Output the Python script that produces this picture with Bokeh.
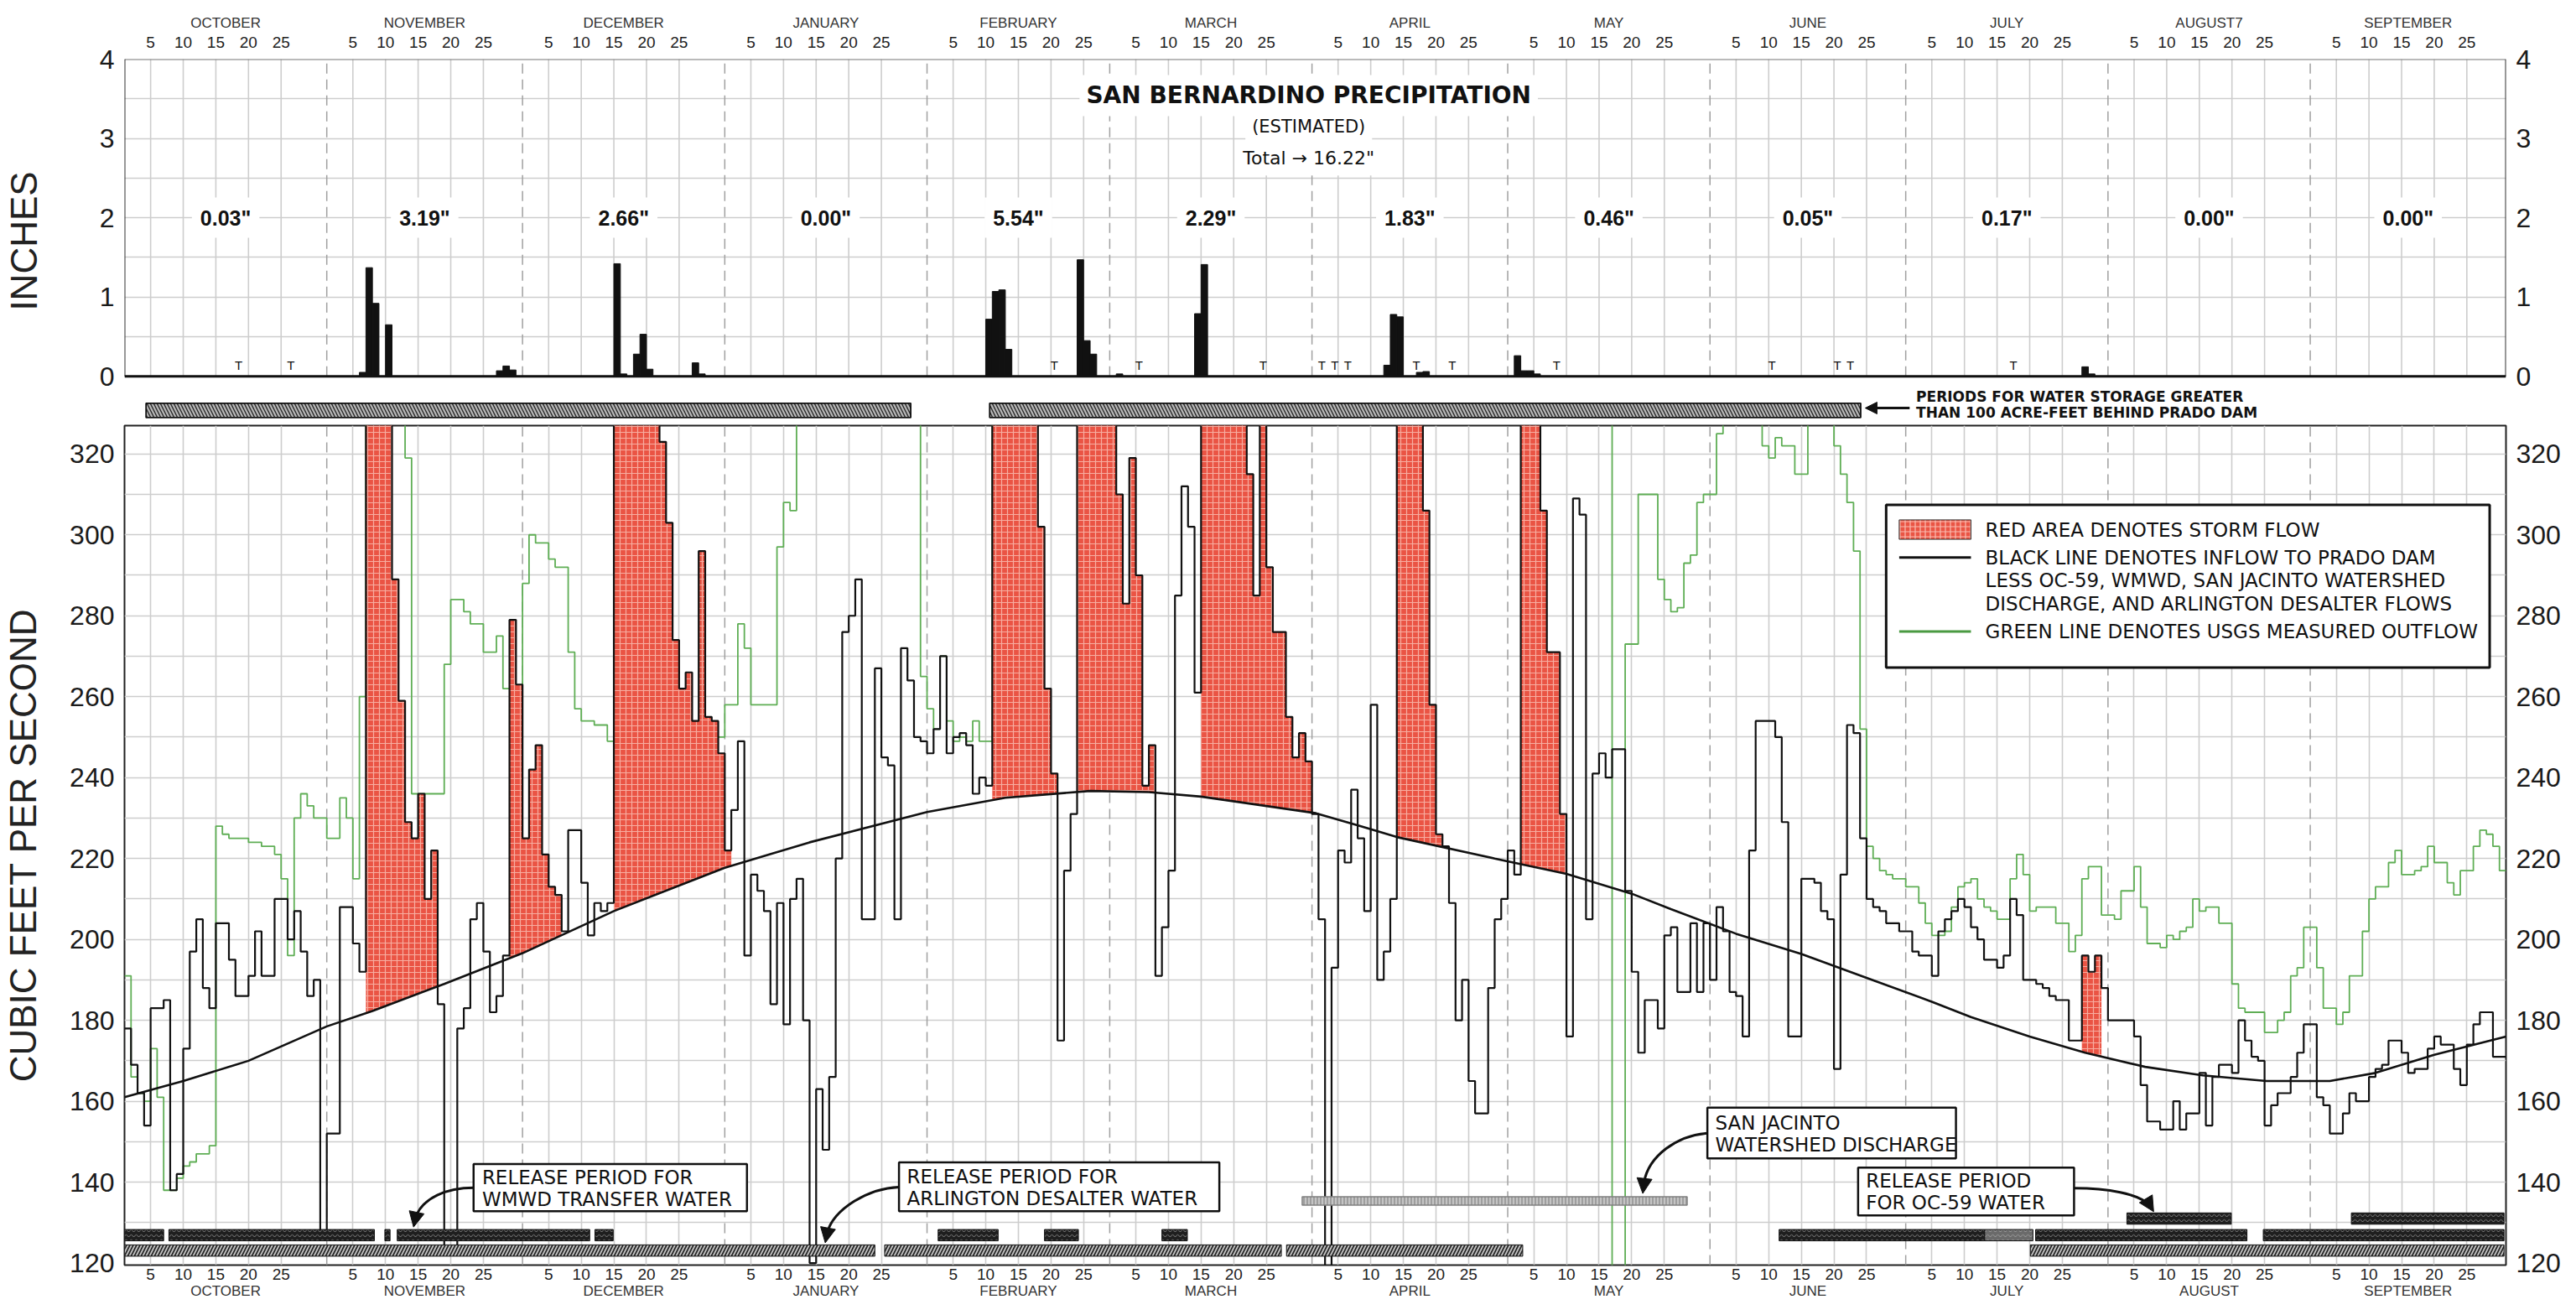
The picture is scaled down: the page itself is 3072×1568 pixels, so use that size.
import numpy as np
from bokeh.plotting import figure
from bokeh.layouts import column
from bokeh.models import Range1d, FixedTicker, LinearAxis, Grid, Arrow, NormalHead, Label
from bokeh.embed import file_html
from bokeh.resources import INLINE
from bokeh.core.properties import value

FONT = "Liberation Sans"
CAD = "DejaVu Sans"

# ---------------- axis text ----------------
MONTHS_TOP = ["OCTOBER", "NOVEMBER", "DECEMBER", "JANUARY", "FEBRUARY", "MARCH",
              "APRIL", "MAY", "JUNE", "JULY", "AUGUST7", "SEPTEMBER"]
MONTHS_BOTTOM = ["OCTOBER", "NOVEMBER", "DECEMBER", "JANUARY", "FEBRUARY", "MARCH",
                 "APRIL", "MAY", "JUNE", "JULY", "AUGUST", "SEPTEMBER"]
MONTH_LENGTHS = [31, 30, 31, 31, 28, 31, 30, 31, 30, 31, 31, 30]
DAY_LABELS = [5, 10, 15, 20, 25]
INCH_TICKS = [0, 1, 2, 3, 4]
CFS_TICKS = [120, 140, 160, 180, 200, 220, 240, 260, 280, 300, 320]

# ---------------- precipitation (top panel) ----------------
MONTH_TOTALS = ['0.03"', '3.19"', '2.66"', '0.00"', '5.54"', '2.29"',
                '1.83"', '0.46"', '0.05"', '0.17"', '0.00"', '0.00"']
TITLE_LINES = ["SAN BERNARDINO PRECIPITATION", "(ESTIMATED)", 'Total \u2192 16.22"']
# day index counted from October 1 (= 0)
PRECIP_DAY = [36, 37, 38, 40, 57, 58, 59, 75, 76, 78, 79, 80, 87, 88,
              132, 133, 134, 135, 146, 147, 148, 152, 164, 165,
              193, 194, 195, 198, 199, 213, 214, 215, 216, 300, 301]
PRECIP_IN = [0.05, 1.37, 0.92, 0.65, 0.07, 0.13, 0.08, 1.42, 0.03, 0.28, 0.53, 0.09, 0.17, 0.03,
             0.72, 1.07, 1.09, 0.34, 1.47, 0.45, 0.28, 0.03, 0.79, 1.41,
             0.14, 0.78, 0.75, 0.05, 0.06, 0.26, 0.07, 0.07, 0.03, 0.12, 0.03]
TRACE_DAY = [17, 25, 142, 155, 174, 183, 185, 187, 197.5, 203, 219, 252, 262, 264, 289]

# ---------------- flows (bottom panel), one value per day ----------------
INFLOW_OCT = [178, 169, 162, 154, 183, 183, 185, 138, 142, 173, 197, 205, 188, 183, 204, 204,
              195, 186, 186, 191, 202, 191, 191, 210, 210, 200, 207, 197, 186, 190, 126]
INFLOW_NOV = [152, 152, 208, 208, 199, 192] + [360] * 4 + [289, 259, 229, 225, 236, 210, 222, 184,
              122, 122, 178, 183, 205, 209, 197, 182, 186, 196, 279, 263]
INFLOW_DEC = [225, 242, 248, 221, 213, 211, 202, 227, 227, 214, 201, 209, 207, 209] + [360] * 7 + \
             [323, 303, 274, 262, 266, 254, 296, 255, 254, 246]
INFLOW_JAN = [222, 232, 249, 196, 216, 212, 207, 184, 209, 179, 210, 215, 180, 120, 163, 148,
              166, 220, 276, 280, 289, 205, 205, 267, 245, 243, 205, 272, 264, 250, 249]
INFLOW_FEB = [246, 252, 270, 246, 250, 251, 248, 236, 240, 238] + [360] * 7 + \
             [302, 262, 241, 175, 217, 231] + [360] * 5
INFLOW_MAR = [360, 310, 283, 319, 290, 238, 248, 191, 203, 217, 285, 312, 302, 261] + [360] * 7 + \
             [315, 285, 360, 292, 276, 276, 255, 245, 251, 244]
INFLOW_APR = [231, 205, 119, 193, 222, 219, 237, 225, 207, 258, 190, 197, 210] + [360] * 4 + \
             [306, 258, 226, 223, 209, 180, 190, 165, 157, 157, 188, 205, 210]
INFLOW_MAY = [222, 216] + [360] * 3 + [306, 271, 271, 231, 176, 309, 305, 205, 241, 246, 240, 247,
              247, 212, 192, 172, 185, 185, 178, 201, 203, 187, 187, 204, 187, 204]
INFLOW_JUN = [190, 208, 202, 187, 186, 176, 222, 254, 254, 254, 250, 229, 176, 176, 215, 215,
              214, 207, 205, 168, 216, 253, 251, 225, 210, 208, 207, 204, 204, 202]
INFLOW_JUL = [202, 197, 196, 196, 191, 202, 205, 207, 210, 208, 203, 200, 195, 195, 193, 196,
              210, 206, 190, 190, 189, 188, 186, 185, 185, 175, 175, 196, 192, 196, 188]
INFLOW_AUG = [180, 180, 180, 180, 176, 164, 155, 155, 153, 153, 160, 153, 157, 157, 167, 154,
              166, 169, 169, 167, 180, 175, 171, 170, 154, 159, 162, 162, 166, 172, 179]
INFLOW_SEP = [179, 161, 159, 152, 152, 157, 162, 160, 160, 166, 168, 169, 175, 175, 172, 167,
              168, 168, 173, 176, 174, 174, 168, 164, 174, 179, 182, 182, 171, 171]

OUTFLOW_OCT = [191, 166, 162, 160, 173, 161, 138, 138, 141, 144, 145, 147, 147, 149, 228, 226,
               225, 225, 225, 224, 224, 223, 223, 221, 215, 196, 230, 236, 233, 230, 230]
OUTFLOW_NOV = [225, 225, 235, 230, 215, 260] + [345] * 6 + [319] + [236] * 5 + \
              [268, 284, 284, 281, 278, 278, 271, 271, 275, 262, 262, 262]
OUTFLOW_DEC = [288, 300, 298, 298, 294, 292, 292, 271, 257, 254, 254, 253, 253, 249] + [250] * 17
OUTFLOW_JAN = [258, 258, 278, 272, 258, 258, 258, 258, 297, 308, 306] + [345] * 19 + [265]
OUTFLOW_FEB = [257, 252, 270, 254, 249, 250, 249, 254, 249, 249] + [345] * 18
OUTFLOW_MAR = [345] * 31
OUTFLOW_APR = [345] * 30
OUTFLOW_MAY = [345] * 16 + [100, 100, 273, 273, 310, 310, 310, 289, 284, 281, 282, 293, 295, 308, 310]
OUTFLOW_JUN = [310, 325] + [345] * 6 + [322, 319, 324, 322, 322, 315, 315] + [345] * 4 + \
              [322, 315, 308, 296, 252, 223, 220, 217, 216, 215, 215]
OUTFLOW_JUL = [213, 213, 209, 204, 201, 201, 202, 208, 213, 214, 215, 210, 208, 207, 205, 205,
               215, 221, 216, 207, 208, 208, 208, 204, 204, 197, 201, 215, 218, 218, 206]
OUTFLOW_AUG = [206, 205, 212, 212, 218, 208, 199, 199, 198, 201, 200, 202, 203, 210, 207, 208,
               208, 204, 204, 189, 183, 182, 182, 182, 177, 177, 180, 182, 191, 193, 203]
OUTFLOW_SEP = [203, 193, 183, 183, 179, 182, 191, 191, 202, 210, 213, 213, 219, 222, 216, 216,
               217, 218, 223, 219, 219, 214, 211, 217, 217, 223, 227, 226, 223, 217]

# smooth base-flow curve (read points)
BASE_DAY = [0, 9, 19, 31, 38, 49, 61, 75, 92, 105, 123, 135, 148, 157, 165, 182.6, 189.4, 195,
            210, 221, 231, 237, 247, 257, 267, 277, 283, 292, 300.5, 309.7, 318.5, 328.3, 338,
            345, 354, 365]
BASE_CFS = [161, 165, 170, 178.5, 182.3, 189, 196.6, 207, 217.7, 224, 231.5, 235, 236.7, 236.4,
            235.3, 231.2, 228, 225.3, 220, 216.2, 211.3, 207.5, 201.4, 196.4, 190.5, 184.6, 180.8,
            176, 172, 168.5, 166.4, 165, 165, 167, 171.5, 176]

# storm-flow periods (inclusive day index)
STORM_START = [37, 59, 75, 133, 146, 165, 195, 214, 300]
STORM_END = [47, 66, 92, 142, 157, 182, 201, 220, 302]

# period bars
STORAGE_START = [3.3, 132.6]
STORAGE_END = [120.5, 266.1]
OC59_START = [306.9, 341.3]
OC59_END = [322.9, 364.7]
WMWD_START = [0, 6.8, 39.9, 41.8, 72.1, 124.7, 141, 159, 253.6, 285.1, 292.9, 327.8]
WMWD_END = [6, 38.3, 40.7, 71.3, 74.9, 133.9, 146.2, 162.9, 285.1, 292.5, 325.3, 364.7]
ARL_START = [0, 116.5, 178.1, 292.1]
ARL_END = [115, 177.3, 214.3, 364.7]
SANJAC_START = [180.5]
SANJAC_END = [239.5]

# ---------------- derived helpers ----------------
INFLOW = (INFLOW_OCT + INFLOW_NOV + INFLOW_DEC + INFLOW_JAN + INFLOW_FEB + INFLOW_MAR +
          INFLOW_APR + INFLOW_MAY + INFLOW_JUN + INFLOW_JUL + INFLOW_AUG + INFLOW_SEP)
OUTFLOW = (OUTFLOW_OCT + OUTFLOW_NOV + OUTFLOW_DEC + OUTFLOW_JAN + OUTFLOW_FEB + OUTFLOW_MAR +
           OUTFLOW_APR + OUTFLOW_MAY + OUTFLOW_JUN + OUTFLOW_JUL + OUTFLOW_AUG + OUTFLOW_SEP)

month_start = np.concatenate([[0], np.cumsum(MONTH_LENGTHS)])
day_ticks, day_over = [], {}
for ms in month_start[:-1]:
    for d in DAY_LABELS:
        t = float(ms + d - 1)
        day_ticks.append(t)
        day_over[t] = str(d)
month_mid = [float(ms + n / 2.0) for ms, n in zip(month_start[:-1], MONTH_LENGTHS)]
bounds = [float(v) for v in month_start[1:-1]]

GRID = "#cdcdcd"
RED = "#ea5444"
HATCH_RED = "#f9bcb0"


def styled_axis(ticks, overrides, size, standoff, color="#222"):
    ax = LinearAxis(ticker=FixedTicker(ticks=ticks), major_label_overrides=overrides)
    ax.axis_line_color = None
    ax.major_tick_line_color = None
    ax.minor_tick_line_color = None
    ax.major_tick_out = 0
    ax.major_tick_in = 0
    ax.minor_tick_out = 0
    ax.major_label_text_font = FONT
    ax.major_label_text_font_size = size
    ax.major_label_text_color = color
    ax.major_label_standoff = standoff
    return ax


def y_axis(ticks, label=None, standoff_label=0):
    ax = styled_axis(ticks, {}, "32px", 12, "#1a1a1a")
    if label:
        ax.axis_label = label
        ax.axis_label_text_font = FONT
        ax.axis_label_text_font_size = "44px"
        ax.axis_label_text_font_style = "normal"
        ax.axis_label_text_color = "#222"
        ax.axis_label_standoff = standoff_label
    return ax


x_range = Range1d(0, 365)
common = dict(width=3056, x_range=x_range, x_axis_location=None, y_axis_location=None,
              output_backend="svg", toolbar_location=None, min_border_left=145,
              min_border_right=67, border_fill_color="white", background_fill_color="white")

# =============== TOP PANEL ===============
top = figure(height=504, y_range=Range1d(-0.59, 4.0), min_border_top=70, min_border_bottom=0,
             outline_line_color=None, **common)
top.grid.visible = False
top.add_layout(Grid(dimension=1, ticker=FixedTicker(ticks=[0.5, 1, 1.5, 2, 2.5, 3, 3.5]),
                    grid_line_color=GRID, grid_line_width=1.6))
top.segment(x0=day_ticks, y0=0, x1=day_ticks, y1=4, line_color=GRID, line_width=1.6)
top.segment(x0=bounds, y0=0, x1=bounds, y1=4, line_color="#a0a0a0", line_width=1.5,
            line_dash="12 7")
# frame pieces
top.segment(x0=[0], y0=[4], x1=[365], y1=[4], line_color="#777", line_width=2)
top.segment(x0=[0, 365], y0=[0, 0], x1=[0, 365], y1=[4, 4], line_color="#333", line_width=2)

top.quad(left=PRECIP_DAY, right=[d + 1 for d in PRECIP_DAY], bottom=0, top=PRECIP_IN,
         fill_color="#111", line_color="#111", line_width=1)
top.segment(x0=[0], y0=[0], x1=[365], y1=[0], line_color="#111", line_width=3)
top.text(x=[d + 0.5 for d in TRACE_DAY], y=0.05, text=["T"] * len(TRACE_DAY),
         text_font=value(FONT), text_font_size="15px", text_align="center",
         text_baseline="bottom", text_color="#111")

for mid, tot in zip(month_mid, MONTH_TOTALS):
    top.add_layout(Label(x=mid, y=2.0, text=tot, text_font=FONT, text_font_size="25px",
                         text_font_style="bold", text_align="center", text_baseline="middle",
                         background_fill_color="white", padding=10, text_color="#111"))
for txt, yy, fs, st in zip(TITLE_LINES, [3.54, 3.15, 2.75], ["28px", "21px", "22px"],
                           ["bold", "normal", "normal"]):
    top.add_layout(Label(x=181.5, y=yy, text=txt, text_font=CAD, text_font_size=fs,
                         text_font_style=st, text_align="center", text_baseline="middle",
                         background_fill_color="white", padding=8, text_color="#111"))

# storage periods bar (between the panels)
top.quad(left=STORAGE_START, right=STORAGE_END, bottom=-0.52, top=-0.34,
         fill_color="#b8b8b8", line_color="#111", line_width=1.8,
         hatch_pattern="\\", hatch_color="#2a2a2a", hatch_scale=8, hatch_weight=1.4)
top.add_layout(Arrow(x_start=273.6, y_start=-0.40, x_end=266.8, y_end=-0.40, line_width=3,
                     line_color="#111", end=NormalHead(size=14, fill_color="#111",
                                                       line_color="#111")))
for txt, yy in zip(["PERIODS FOR WATER STORAGE GREATER", "THAN 100 ACRE-FEET BEHIND PRADO DAM"],
                   [-0.26, -0.455]):
    top.add_layout(Label(x=274.6, y=yy, text=txt, text_font=CAD, text_font_size="17px",
                         text_font_style="bold", text_align="left", text_baseline="middle",
                         text_color="#111"))

top.add_layout(styled_axis(day_ticks, day_over, "19px", 14), "above")
top.add_layout(styled_axis(month_mid, {m: n for m, n in zip(month_mid, MONTHS_TOP)}, "17px", 4,
                           "#333"), "above")
top.add_layout(y_axis(INCH_TICKS, "INCHES", 63), "left")
top.add_layout(y_axis(INCH_TICKS), "right")

# =============== BOTTOM PANEL ===============
bot = figure(height=1052, y_range=Range1d(119.5, 327.0), min_border_top=3, min_border_bottom=48,
             outline_line_color="#222", outline_line_width=2, **common)
bot.grid.visible = False
bot.add_layout(Grid(dimension=0, ticker=FixedTicker(ticks=day_ticks), grid_line_color=GRID,
                    grid_line_width=1.6))
bot.add_layout(Grid(dimension=1, ticker=FixedTicker(ticks=list(range(130, 330, 10))),
                    grid_line_color=GRID, grid_line_width=1.6))
bot.segment(x0=bounds, y0=119.5, x1=bounds, y1=327, line_color="#a0a0a0", line_width=1.5,
            line_dash="12 7")

xs_step = list(range(366))
bot.step(x=xs_step, y=OUTFLOW + [OUTFLOW[-1]], mode="after", line_color="#5fae55",
         line_width=1.8)

# storm-flow red areas between base curve and inflow line
pxs, pys = [], []
for s, e in zip(STORM_START, STORM_END):
    px, py = [float(s)], [float(np.interp(s, BASE_DAY, BASE_CFS))]
    for d in range(s, e + 1):
        v = max(INFLOW[d], float(np.interp(d + 0.5, BASE_DAY, BASE_CFS)))
        px += [d, d + 1]
        py += [v, v]
    edge = np.linspace(e + 1, s, 10)
    px += list(edge)
    py += list(np.interp(edge, BASE_DAY, BASE_CFS))
    pxs.append(px)
    pys.append(py)
bot.patches(xs=pxs, ys=pys, fill_color=RED, line_color=None, hatch_pattern="+",
            hatch_color=HATCH_RED, hatch_scale=7, hatch_weight=1.2, hatch_alpha=0.85)

bot.step(x=xs_step, y=INFLOW + [INFLOW[-1]], mode="after", line_color="#111", line_width=2.2)
bot.line(x=BASE_DAY, y=BASE_CFS, line_color="#111", line_width=2.6)

# release period bars
wmwd_cols = ["#1e1e1e"] * len(WMWD_START)
wmwd_cols[9] = "#6a6a6a"
bot.quad(left=OC59_START, right=OC59_END, bottom=129.6, top=132.4, fill_color="#1e1e1e",
         line_color="#111", hatch_pattern="v", hatch_color="#bbbbbb", hatch_scale=6,
         hatch_weight=0.9, hatch_alpha=0.7)
bot.quad(left=WMWD_START, right=WMWD_END, bottom=125.5, top=128.3, fill_color=wmwd_cols,
         line_color="#111", hatch_pattern="v", hatch_color="#bbbbbb", hatch_scale=6,
         hatch_weight=0.9, hatch_alpha=0.7)
bot.quad(left=ARL_START, right=ARL_END, bottom=121.7, top=124.5, fill_color="#262626",
         line_color="#111", hatch_pattern="/", hatch_color="#dddddd", hatch_scale=8,
         hatch_weight=1.8, hatch_alpha=0.85)
bot.quad(left=SANJAC_START, right=SANJAC_END, bottom=134.3, top=136.4, fill_color="#c4c4c4",
         line_color="#808080", line_width=1.5, hatch_pattern="|", hatch_color="#777",
         hatch_scale=4, hatch_weight=1)

# annotation boxes
BOX_L = [53.5, 118.7, 242.6, 265.7]
BOX_R = [95.4, 167.8, 280.7, 298.8]
BOX_B = [132.8, 132.8, 145.9, 131.8]
BOX_T = [144.5, 144.9, 158.4, 143.6]
bot.quad(left=BOX_L, right=BOX_R, bottom=BOX_B, top=BOX_T, fill_color="white",
         line_color="#111", line_width=2.5)
BOX_TEXT = [("RELEASE PERIOD FOR", 54.8, 141.1), ("WMWD TRANSFER WATER", 54.8, 135.8),
            ("RELEASE PERIOD FOR", 119.9, 141.3), ("ARLINGTON DESALTER WATER", 119.9, 136.0),
            ("SAN JACINTO", 243.8, 154.6), ("WATERSHED DISCHARGE", 243.8, 149.3),
            ("RELEASE PERIOD", 266.9, 140.3), ("FOR OC-59 WATER", 266.9, 134.9)]
bot.text(x=[t[1] for t in BOX_TEXT], y=[t[2] for t in BOX_TEXT], text=[t[0] for t in BOX_TEXT],
         text_font=value(CAD), text_font_size="23px", text_align="left",
         text_baseline="middle", text_color="#111")

# curved leader arrows
CURVES = [  # start, control1, control2, end, tip
    ((53.5, 138.6), (49.5, 138.6), (45.6, 136.2), (44.6, 131.2), (44.3, 128.9)),
    ((118.7, 138.8), (114.0, 138.5), (108.8, 133.5), (107.7, 127.6), (107.4, 125.0)),
    ((242.6, 152.1), (238.0, 151.6), (233.6, 146.5), (232.9, 140.0), (232.7, 137.2)),
    ((298.8, 138.5), (304.0, 138.5), (308.6, 137.2), (310.4, 134.3), (311.0, 132.7)),
]
bot.bezier(x0=[c[0][0] for c in CURVES], y0=[c[0][1] for c in CURVES],
           x1=[c[3][0] for c in CURVES], y1=[c[3][1] for c in CURVES],
           cx0=[c[1][0] for c in CURVES], cy0=[c[1][1] for c in CURVES],
           cx1=[c[2][0] for c in CURVES], cy1=[c[2][1] for c in CURVES],
           line_color="#111", line_width=3)
for c in CURVES:
    bot.add_layout(Arrow(x_start=c[3][0], y_start=c[3][1], x_end=c[4][0], y_end=c[4][1],
                         line_alpha=0, end=NormalHead(size=18, fill_color="#111",
                                                      line_color="#111")))

# legend
bot.quad(left=[270.0], right=[362.5], bottom=[267.2], top=[307.4], fill_color="white",
         line_color="#111", line_width=3)
bot.quad(left=[272.0], right=[283.0], bottom=[298.9], top=[303.7], fill_color=RED,
         line_color="#333", hatch_pattern="+", hatch_color=HATCH_RED, hatch_scale=6,
         hatch_weight=1.2)
bot.segment(x0=[272.0], y0=[294.4], x1=[283.0], y1=[294.4], line_color="#111", line_width=3)
bot.segment(x0=[272.0], y0=[276.1], x1=[283.0], y1=[276.1], line_color="#4a9a42", line_width=3)
LEG_TEXT = [("RED AREA DENOTES STORM FLOW", 301.2), ("BLACK LINE DENOTES INFLOW TO PRADO DAM", 294.4),
            ("LESS OC-59, WMWD, SAN JACINTO WATERSHED", 288.7),
            ("DISCHARGE, AND ARLINGTON DESALTER FLOWS", 283.0),
            ("GREEN LINE DENOTES USGS MEASURED OUTFLOW", 276.1)]
bot.text(x=[285.2] * len(LEG_TEXT), y=[t[1] for t in LEG_TEXT], text=[t[0] for t in LEG_TEXT],
         text_font=value(CAD), text_font_size="23px", text_align="left",
         text_baseline="middle", text_color="#111")

bot.add_layout(styled_axis(day_ticks, day_over, "19px", 4), "below")
bot.add_layout(styled_axis(month_mid, {m: n for m, n in zip(month_mid, MONTHS_BOTTOM)}, "17px", 1,
                           "#333"), "below")
bot.add_layout(y_axis(CFS_TICKS, "CUBIC FEET PER SECOND", 28), "left")
bot.add_layout(y_axis(CFS_TICKS), "right")

layout = column(top, bot, spacing=0)
open("out.html", "w").write(file_html(layout, INLINE))
